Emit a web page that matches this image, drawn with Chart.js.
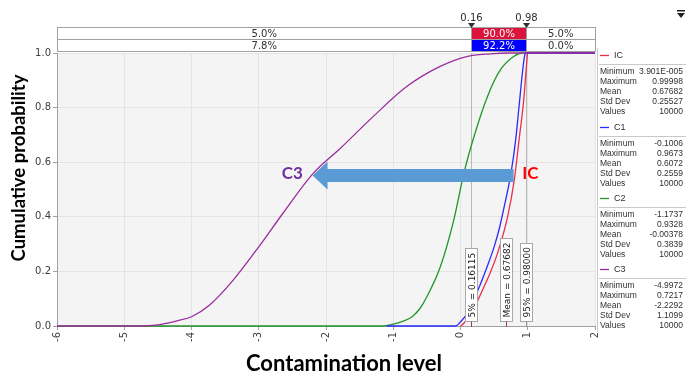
<!DOCTYPE html>
<html><head><meta charset="utf-8">
<script src="https://cdn.jsdelivr.net/npm/chart.js@4.4.1/dist/chart.umd.min.js"></script>
<style>html,body{margin:0;padding:0;background:#fff;overflow:hidden}#wrap{width:686px;height:372px;position:relative}</style>
</head><body><div id="wrap"><canvas id="c" width="686" height="372"></canvas></div>
<script>
// ---- data ----
const xTicks = [-6, -5, -4, -3, -2, -1, 0, 1, 2];
const yTicks = [0, 0.2, 0.4, 0.6, 0.8, 1.0];
const seriesNames = ['IC', 'C1', 'C2', 'C3'];

const icX = [0, 0.05, 0.12, 0.20, 0.35, 0.45, 0.55, 0.70, 0.80, 0.87, 0.94, 0.98, 1.0, 2];
const icP = [0, 0.01, 0.034, 0.065, 0.144, 0.20, 0.266, 0.40, 0.535, 0.68, 0.828, 0.95, 1.0, 1.0];

const c1X = [-1.1, -0.07, 0.0, 0.10, 0.20, 0.30, 0.40, 0.50, 0.58, 0.65, 0.75, 0.82, 0.87, 0.92, 0.95, 0.967, 2];
const c1P = [0, 0, 0.015, 0.046, 0.098, 0.156, 0.22, 0.29, 0.36, 0.437, 0.559, 0.681, 0.803, 0.926, 0.985, 1, 1];

const c2X = [-6, -1.15, -1.0, -0.85, -0.72, -0.60, -0.50, -0.30, -0.10, 0.05, 0.20, 0.40, 0.59, 0.79, 0.93, 2];
const c2P = [0, 0, 0.007, 0.018, 0.034, 0.065, 0.107, 0.217, 0.388, 0.559, 0.693, 0.84, 0.937, 0.987, 1, 1];

const c3X = [-6, -4.75, -4.5, -4.37, -4.2, -4.0, -3.73, -3.38, -3.0, -2.64, -2.19, -1.79, -1.30, -0.80, -0.31, 0.09, 0.44, 0.72, 2];
const c3P = [0, 0, 0.004, 0.01, 0.02, 0.034, 0.077, 0.168, 0.29, 0.413, 0.559, 0.65, 0.767, 0.877, 0.95, 0.987, 0.997, 1, 1];

const statLabels = ['Minimum', 'Maximum', 'Mean', 'Std Dev', 'Values'];
const icStats = ['3.901E-005', '0.99998', '0.67682', '0.25527', '10000'];
const c1Stats = ['-0.1006', '0.9673', '0.6072', '0.2559', '10000'];
const c2Stats = ['-1.1737', '0.9328', '-0.00378', '0.3839', '10000'];
const c3Stats = ['-4.9972', '0.7217', '-2.2292', '1.1099', '10000'];

const bandValues = [0.16, 0.98];
const bandLabels = ['0.16', '0.98'];
const row1 = ['5.0%', '90.0%', '5.0%'];
const row2 = ['7.8%', '92.2%', '0.0%'];

const markerValues = [0.16115, 0.67682, 0.98000];
const markerLabels = ['5% = 0.16115', 'Mean = 0.67682', '95% = 0.98000'];

const xTitle = 'Contamination level';
const yTitle = 'Cumulative probability';

// ---- styles ----
const COLORS = { IC: '#e8304a', C1: '#2a2aff', C2: '#22962a', C3: '#9a2d9e' };
const TF = '"DejaVu Sans", sans-serif';
const PF = '"Liberation Sans", Arial, sans-serif';
const pts = (xs, ys) => xs.map((v, i) => ({ x: v, y: ys[i] }));

const deco = {
  id: 'deco',
  beforeDraw(chart) {
    const { ctx, chartArea: a } = chart;
    ctx.save();
    ctx.fillStyle = '#fff'; ctx.fillRect(0, 0, chart.width, chart.height);
    ctx.fillStyle = '#f4f4f4'; ctx.fillRect(a.left, a.top, a.right - a.left, a.bottom - a.top);
    ctx.restore();
  },
  beforeDatasetsDraw(chart) {
    const { ctx, chartArea: a, scales: { x } } = chart;
    ctx.save(); ctx.strokeStyle = '#b8b8b8'; ctx.lineWidth = 1;
    bandValues.forEach(v => {
      const px = Math.round(x.getPixelForValue(v)) + 0.5;
      ctx.beginPath(); ctx.moveTo(px, a.top); ctx.lineTo(px, a.bottom); ctx.stroke();
    });
    ctx.restore();
  },
  afterDatasetsDraw(chart) {
    const { ctx, chartArea: a, scales: { x, y } } = chart;
    ctx.save();
    // marker labels
    ctx.font = '9px ' + TF;
    markerValues.forEach((v, i) => {
      const px = Math.round(x.getPixelForValue(v)) + 0.5;
      const tw = ctx.measureText(markerLabels[i]).width;
      const h = Math.round(tw + 8), w = 12, bottom = a.bottom - 4.5;
      ctx.fillStyle = '#fff'; ctx.fillRect(px - w / 2, bottom - h, w, h);
      ctx.strokeStyle = '#a8a8a8'; ctx.lineWidth = 1; ctx.strokeRect(px - w / 2, bottom - h, w, h);
      ctx.strokeStyle = i < 2 ? '#9a3a55' : '#8a8a8a';
      ctx.beginPath(); ctx.moveTo(px, bottom); ctx.lineTo(px, a.bottom + 1); ctx.stroke();
      ctx.save(); ctx.translate(px + 0.5, bottom - 4); ctx.rotate(-Math.PI / 2);
      ctx.fillStyle = '#202020'; ctx.textAlign = 'left'; ctx.textBaseline = 'middle';
      ctx.fillText(markerLabels[i], 0, 0.5); ctx.restore();
    });
    // arrow
    const ay = y.getPixelForValue(0.551);
    const xTail = x.getPixelForValue(0.79), xTip = x.getPixelForValue(-2.2);
    ctx.fillStyle = '#5b9bd5';
    ctx.beginPath();
    ctx.moveTo(xTail, ay - 6.5); ctx.lineTo(xTip + 15, ay - 6.5); ctx.lineTo(xTip + 15, ay - 14);
    ctx.lineTo(xTip, ay); ctx.lineTo(xTip + 15, ay + 14); ctx.lineTo(xTip + 15, ay + 6.5);
    ctx.lineTo(xTail, ay + 6.5); ctx.closePath(); ctx.fill();
    ctx.font = 'bold 17px Lato, sans-serif'; ctx.textAlign = 'center'; ctx.textBaseline = 'middle';
    ctx.fillStyle = '#7030a0'; ctx.fillText('C3', x.getPixelForValue(-2.5), ay - 2);
    ctx.fillStyle = '#ff0000'; ctx.fillText('IC', x.getPixelForValue(1.04), ay - 2);

    // top table
    const L = x.getPixelForValue(-6), R = x.getPixelForValue(2);
    const c1 = Math.round(x.getPixelForValue(bandValues[0])) + 0.5, c2 = Math.round(x.getPixelForValue(bandValues[1])) + 0.5;
    const top = 27.5, mid = 39.5, bot = 51.5;
    ctx.fillStyle = '#fff'; ctx.fillRect(L, top, R - L, bot - top);
    ctx.fillStyle = '#dc143c'; ctx.fillRect(c1, top, c2 - c1, mid - top);
    ctx.fillStyle = '#0000ff'; ctx.fillRect(c1, mid, c2 - c1, bot - mid);
    ctx.strokeStyle = '#a0a0a0'; ctx.lineWidth = 1;
    ctx.strokeRect(Math.round(L) + 0.5, top, Math.round(R - L), bot - top);
    ctx.beginPath(); ctx.moveTo(L, mid); ctx.lineTo(R, mid);
    ctx.moveTo(c1, top); ctx.lineTo(c1, bot); ctx.moveTo(c2, top); ctx.lineTo(c2, bot); ctx.stroke();
    ctx.font = '10px ' + TF; ctx.textAlign = 'center'; ctx.textBaseline = 'middle';
    const cx = [(L + c1) / 2, (c1 + c2) / 2, (c2 + R) / 2];
    row1.forEach((t, i) => { ctx.fillStyle = i === 1 ? '#fff' : '#303030'; ctx.fillText(t, cx[i], (top + mid) / 2 + 0.5); });
    row2.forEach((t, i) => { ctx.fillStyle = i === 1 ? '#fff' : '#303030'; ctx.fillText(t, cx[i], (mid + bot) / 2 + 0.5); });
    ctx.fillStyle = '#303030';
    [c1, c2].forEach((c, i) => {
      ctx.fillText(bandLabels[i], c, 18);
      ctx.beginPath(); ctx.moveTo(c - 3.5, 23); ctx.lineTo(c + 3.5, 23); ctx.lineTo(c, 28); ctx.closePath(); ctx.fill();
    });

    // right panel
    const stats = [icStats, c1Stats, c2Stats, c3Stats];
    const headY = [55, 127, 198, 269];
    ctx.strokeStyle = '#c8c8c8';
    ctx.beginPath(); ctx.moveTo(597.5, 48); ctx.lineTo(597.5, 332); ctx.stroke();
    seriesNames.forEach((n, k) => {
      const hy = headY[k];
      ctx.strokeStyle = COLORS[n]; ctx.lineWidth = 1.3;
      ctx.beginPath(); ctx.moveTo(600, hy + 0.5); ctx.lineTo(609, hy + 0.5); ctx.stroke();
      ctx.lineWidth = 1; ctx.strokeStyle = '#c8c8c8';
      ctx.beginPath(); ctx.moveTo(599, hy + 9.5); ctx.lineTo(686, hy + 9.5); ctx.stroke();
      ctx.font = '9px ' + PF; ctx.textAlign = 'left'; ctx.textBaseline = 'middle'; ctx.fillStyle = '#303030';
      ctx.fillText(n, 614, hy + 0.5);
      ctx.font = '8.5px ' + PF;
      statLabels.forEach((lab, j) => {
        const ry = hy + 17 + j * 10;
        ctx.textAlign = 'left'; ctx.fillText(lab, 600, ry);
        ctx.textAlign = 'right'; ctx.fillText(stats[k][j], 683, ry);
      });
    });

    // dropdown icon
    ctx.fillStyle = '#202020';
    ctx.fillRect(677, 10, 8, 1.5);
    ctx.beginPath(); ctx.moveTo(677, 13); ctx.lineTo(685, 13); ctx.lineTo(681, 18); ctx.closePath(); ctx.fill();

    // axis titles
    ctx.fillStyle = '#000';
    ctx.font = 'bold 22px Lato, sans-serif'; ctx.textAlign = 'center'; ctx.textBaseline = 'middle';
    ctx.fillText(xTitle, 344, 364);
    ctx.save(); ctx.translate(19, 168); ctx.rotate(-Math.PI / 2);
    ctx.font = 'bold 18.5px Lato, sans-serif';
    ctx.fillText(yTitle, 0, 0); ctx.restore();
    ctx.restore();
  }
};

new Chart(document.getElementById('c'), {
  type: 'line',
  data: {
    datasets: [
      { label: 'C3', data: pts(c3X, c3P), borderColor: COLORS.C3, order: 0 },
      { label: 'C1', data: pts(c1X, c1P), borderColor: COLORS.C1, order: 1 },
      { label: 'IC', data: pts(icX, icP), borderColor: COLORS.IC, order: 2 },
      { label: 'C2', data: pts(c2X, c2P), borderColor: COLORS.C2, order: 3 }
    ]
  },
  options: {
    responsive: false, animation: false, devicePixelRatio: 1,
    layout: { padding: { left: 0, right: 91, top: 53, bottom: 0 } },
    plugins: { legend: { display: false }, tooltip: { enabled: false } },
    elements: { point: { radius: 0 }, line: { borderWidth: 1.3, cubicInterpolationMode: 'monotone', fill: false } },
    datasets: { line: { clip: false } },
    scales: {
      x: {
        type: 'linear', min: -6, max: 2,
        afterBuildTicks: s => { s.ticks = xTicks.map(v => ({ value: v })); },
        afterFit: s => { s.height = 46; },
        ticks: { minRotation: 90, maxRotation: 90, autoSkip: false, font: { size: 10, family: 'DejaVu Sans' }, color: '#404040', padding: 2, callback: v => String(v) },
        grid: { color: '#e4e4e4', tickLength: 4, tickColor: '#a0a0a0' },
        border: { color: '#a0a0a0' }
      },
      y: {
        min: 0, max: 1,
        afterBuildTicks: s => { s.ticks = yTicks.map(v => ({ value: v })); },
        afterFit: s => { s.width = 57; },
        ticks: { font: { size: 10, family: 'DejaVu Sans' }, color: '#404040', padding: 2, callback: v => Number(v).toFixed(1) },
        grid: { color: '#e4e4e4', tickLength: 4, tickColor: '#a0a0a0' },
        border: { color: '#a0a0a0' }
      }
    }
  },
  plugins: [deco]
});
</script></body></html>
